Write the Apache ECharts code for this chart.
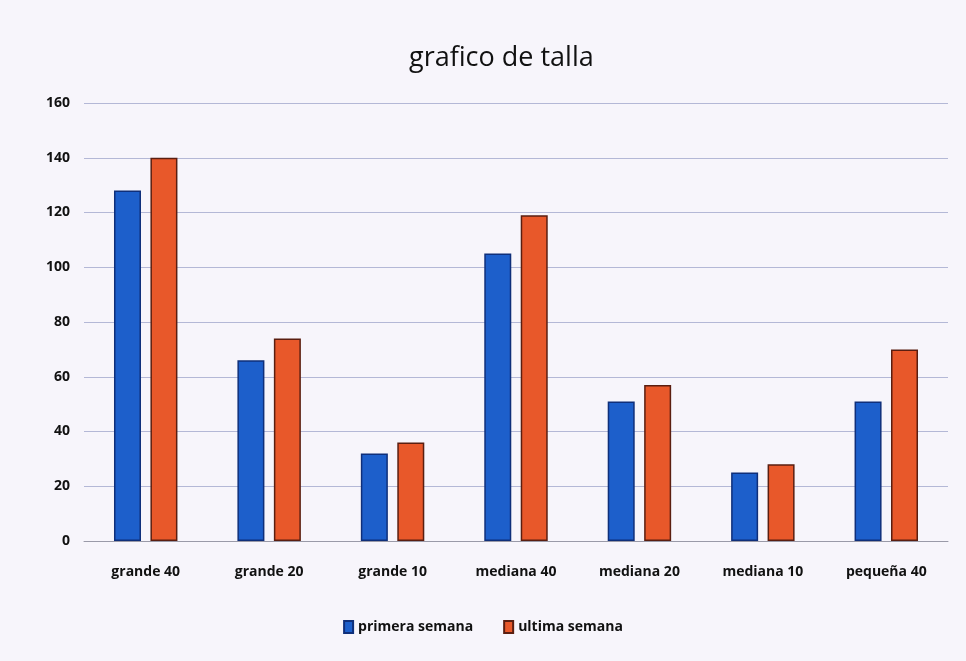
<!DOCTYPE html>
<html>
<head>
<meta charset="utf-8">
<script src="https://cdn.jsdelivr.net/npm/echarts@6/dist/echarts.min.js"></script>
<style>
  html, body { margin: 0; padding: 0; background: #f7f5fb; }
  #chart { width: 966px; height: 661px; }
</style>
</head>
<body>
<div id="chart"></div>
<script>
// categorias (tallas)
var categories = ['grande 40', 'grande 20', 'grande 10', 'mediana 40', 'mediana 20', 'mediana 10', 'pequeña 40'];
// valores
var primeraSemana = [128, 66, 32, 105, 51, 25, 51];
var ultimaSemana = [140, 74, 36, 119, 57, 28, 70];
var yTicks = [0, 20, 40, 60, 80, 100, 120, 140, 160];

var myChart = echarts.init(document.getElementById('chart'));
myChart.setOption({
  backgroundColor: '#f7f5fb',
  textStyle: { fontFamily: 'Open Sans' },
  title: {
    text: 'grafico de talla',
    left: 404,
    top: 40,
    textStyle: { fontSize: 27, fontWeight: 'normal', color: '#111', fontFamily: 'Open Sans' }
  },
  grid: { left: 84, right: 18, top: 103, bottom: 120 },
  legend: {
    bottom: 22,
    left: 'center',
    itemWidth: 9,
    itemHeight: 12,
    itemGap: 30,
    icon: 'rect',
    textStyle: { fontSize: 14, fontWeight: 'bold', color: '#111' },
    data: ['primera semana', 'ultima semana']
  },
  xAxis: {
    type: 'category',
    data: categories,
    axisTick: { show: false },
    axisLine: { lineStyle: { color: '#9a9aa8', width: 1 } },
    axisLabel: { color: '#111', fontSize: 14, fontWeight: 'bold', margin: 24 }
  },
  yAxis: {
    type: 'value',
    min: yTicks[0],
    max: yTicks[yTicks.length - 1],
    interval: 20,
    axisLine: { show: false },
    axisTick: { show: false },
    axisLabel: { color: '#111', fontSize: 14, fontWeight: 'bold', margin: 14 },
    splitLine: { lineStyle: { color: '#b4b8d6', width: 1 } }
  },
  series: [
    {
      name: 'primera semana',
      type: 'bar',
      data: primeraSemana,
      barWidth: 27,
      barGap: '35%',
      itemStyle: { color: '#1d5fcb', borderColor: '#0f2f7a', borderWidth: 1.5 }
    },
    {
      name: 'ultima semana',
      type: 'bar',
      data: ultimaSemana,
      barWidth: 27,
      barGap: '35%',
      itemStyle: { color: '#e8582a', borderColor: '#5a1e10', borderWidth: 1.5 }
    }
  ]
});
</script>
</body>
</html>
